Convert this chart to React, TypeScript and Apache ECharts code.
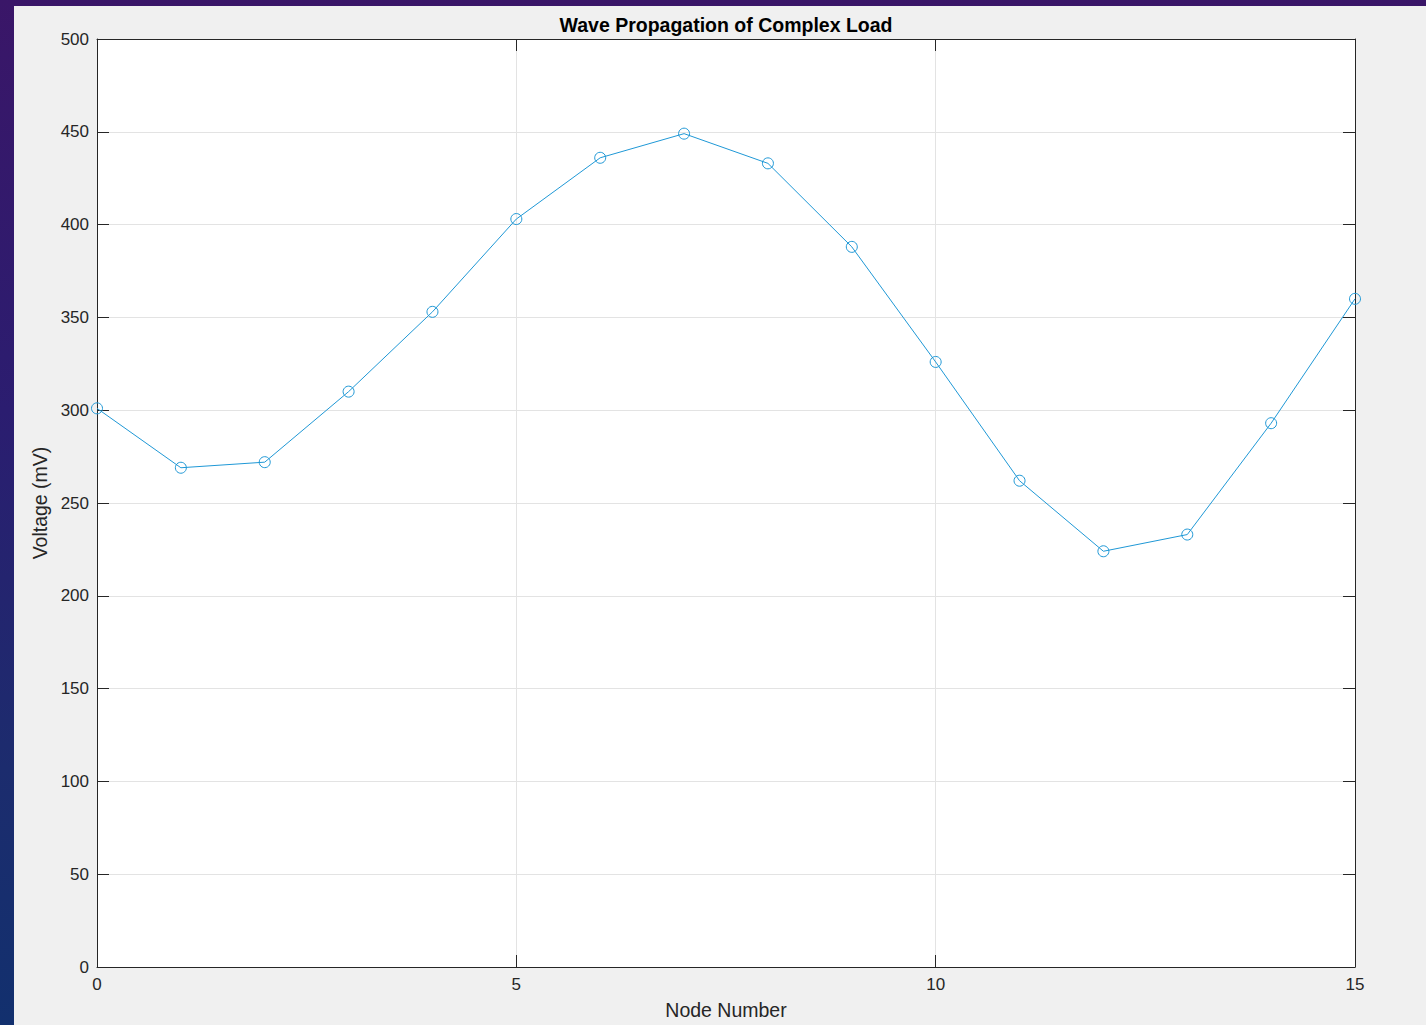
import React, { useEffect, useRef } from "react";
import * as echarts from "echarts";

const nodes = [0, 1, 2, 3, 4, 5, 6, 7, 8, 9, 10, 11, 12, 13, 14, 15];
const voltages = [301, 269, 272, 310, 353, 403, 436, 449, 433, 388, 326, 262, 224, 233, 293, 360];
const titleText = "Wave Propagation of Complex Load";
const xName = "Node Number";
const yName = "Voltage (mV)";

export default function App() {
  const ref = useRef<HTMLDivElement>(null);
  useEffect(() => {
    if (!ref.current) return;
    const chart = echarts.init(ref.current, null, { renderer: "svg" });
    const font = "Helvetica, Arial, 'Liberation Sans', sans-serif";
    const data = nodes.map((n, i) => [n, voltages[i]]);
    const common = {
      type: "value" as const,
      splitLine: { show: false },
      axisTick: { show: true, inside: true, length: 12, lineStyle: { color: "#262626", width: 1 } },
    };
    chart.setOption({
      animation: false,
      backgroundColor: "#f0f0f0",
      title: {
        text: titleText,
        left: 707,
        top: 4,
        textAlign: "center",
        textStyle: { fontFamily: font, fontSize: 19.5, fontWeight: "bold", color: "#000" },
      },
      grid: { left: 83, top: 33, right: 71, bottom: 58, backgroundColor: "#fff", show: true, borderWidth: 0 },
      xAxis: [
        {
          ...common,
          min: 0,
          max: 15,
          interval: 5,
          position: "bottom",
          name: xName,
          nameLocation: "middle",
          nameGap: 33,
          nameTextStyle: { fontFamily: font, fontSize: 19.5, color: "#262626" },
          axisLine: { show: true, onZero: false, lineStyle: { color: "#262626", width: 1 } },
          axisLabel: { fontFamily: font, fontSize: 17, color: "#262626", margin: 9 },
          splitLine: { show: true, lineStyle: { color: "#e3e3e3", width: 1 } },
        },
        {
          ...common,
          min: 0,
          max: 15,
          interval: 5,
          position: "top",
          axisLine: { show: true, onZero: false, lineStyle: { color: "#262626", width: 1 } },
          axisLabel: { show: false },
        },
      ],
      yAxis: [
        {
          ...common,
          min: 0,
          max: 500,
          interval: 50,
          position: "left",
          name: yName,
          nameLocation: "middle",
          nameGap: 45,
          nameTextStyle: { fontFamily: font, fontSize: 19.5, color: "#262626" },
          axisLine: { show: true, onZero: false, lineStyle: { color: "#262626", width: 1 } },
          axisLabel: { fontFamily: font, fontSize: 17, color: "#262626", margin: 8 },
          splitLine: { show: true, lineStyle: { color: "#e3e3e3", width: 1 } },
        },
        {
          ...common,
          min: 0,
          max: 500,
          interval: 50,
          position: "right",
          axisLine: { show: true, onZero: false, lineStyle: { color: "#262626", width: 1 } },
          axisLabel: { show: false },
        },
      ],
      series: [
        {
          type: "line",
          data,
          xAxisIndex: 0,
          yAxisIndex: 0,
          symbol: "circle",
          symbolSize: 11,
          showAllSymbol: true,
          lineStyle: { color: "#1f98d6", width: 1 },
          itemStyle: { color: "rgba(255,255,255,0)", borderColor: "#1f98d6", borderWidth: 1 },
          emphasis: { disabled: true },
        },
      ],
    });
    return () => chart.dispose();
  }, []);
  return (
    <div
      style={{
        position: "fixed",
        left: 0,
        top: 0,
        width: 1426,
        height: 1025,
        background: "linear-gradient(180deg, #3a1668 0%, #2b1d70 40%, #1c2c6e 75%, #12306e 100%)",
        overflow: "hidden",
      }}
    >
      <div ref={ref} style={{ position: "absolute", left: 14, top: 6, width: 1412, height: 1019 }} />
    </div>
  );
}
